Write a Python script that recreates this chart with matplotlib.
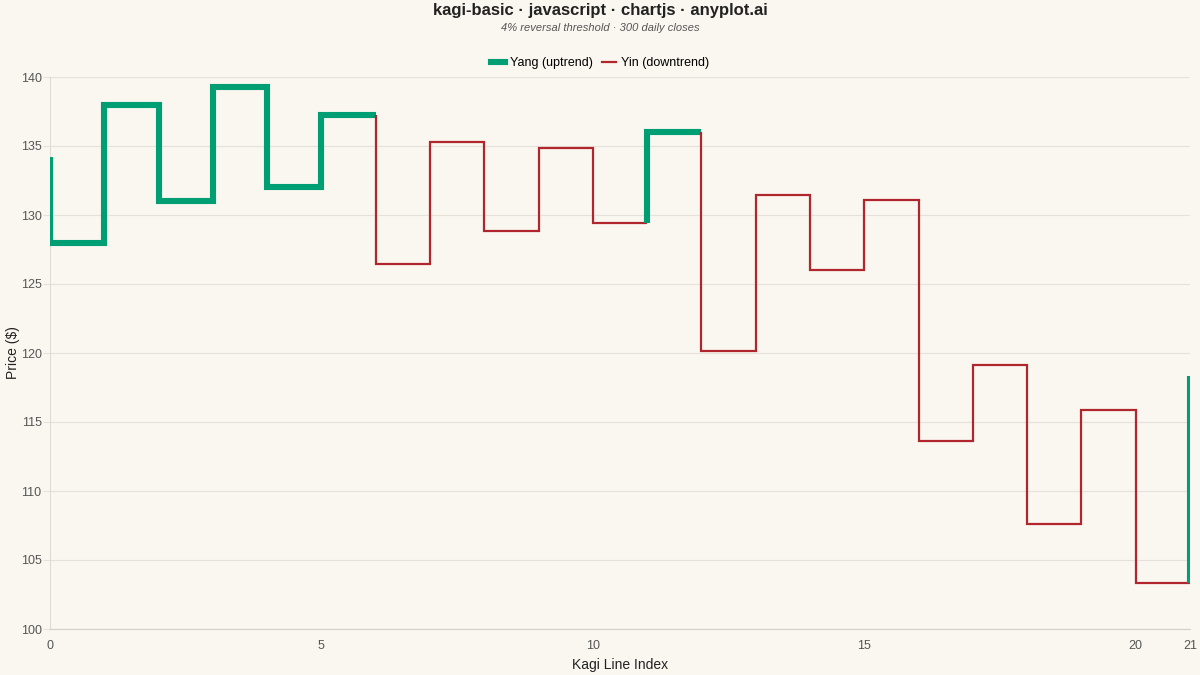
import matplotlib.pyplot as plt
from matplotlib.lines import Line2D

plt.rcParams['font.family'] = ['Liberation Sans', 'DejaVu Sans']

# Kagi line data
start_price = 134.2
line_index = list(range(22))
levels = [128.0, 138.0, 131.0, 139.3, 132.0, 137.25, 126.45, 135.3, 128.85,
          134.85, 129.4, 136.0, 120.15, 131.45, 126.0, 131.1, 113.6, 119.1,
          107.6, 115.9, 103.35, 118.3]
trend = ['yang'] * 6 + ['yin'] * 5 + ['yang'] + ['yin'] * 9 + ['yang']

y_ticks = [100, 105, 110, 115, 120, 125, 130, 135, 140]
x_ticks = [0, 5, 10, 15, 20, 21]

bg = '#FAF7F0'
yang_color = '#009E73'
yin_color = '#B0262C'
styles = {'yang': dict(color=yang_color, lw=4.4), 'yin': dict(color=yin_color, lw=1.6)}

fig = plt.figure(figsize=(12, 6.75), dpi=100, facecolor=bg)
ax = fig.add_axes([50 / 1200, 1 - 629 / 675, 1140 / 1200, 552 / 675])
ax.set_facecolor(bg)

# group consecutive segments of the same trend into one polyline
runs = []
prev = start_price
for i, x in enumerate(line_index):
    pts = [(x, prev), (x, levels[i])]
    if i < len(line_index) - 1:
        pts.append((x + 1, levels[i]))
    if runs and runs[-1][0] == trend[i]:
        runs[-1][1].extend(pts[1:])
    else:
        runs.append([trend[i], pts])
    prev = levels[i]

for t, pts in runs:
    xs = [p[0] for p in pts]
    ys = [p[1] for p in pts]
    ax.plot(xs, ys, solid_joinstyle='miter', solid_capstyle='butt', zorder=3, **styles[t])

ax.set_xlim(0, 21)
ax.set_ylim(100, 140)
ax.set_yticks(y_ticks)
ax.set_xticks(x_ticks)
ax.grid(axis='y', color='#E6E2DA', lw=0.8)
ax.tick_params(axis='y', length=5, color='#E6E2DA', labelsize=9, labelcolor='#555555', pad=1)
ax.tick_params(axis='x', length=0, labelsize=9, labelcolor='#555555', pad=8)
for s in ['top', 'right']:
    ax.spines[s].set_visible(False)
ax.spines['left'].set_color('#E0DCD4')
ax.spines['bottom'].set_color('#D4D0C8')

ax.set_xlabel('Kagi Line Index', fontsize=10, color='#222222', labelpad=4)
ax.set_ylabel('Price ($)', fontsize=10, color='#222222')
ax.yaxis.set_label_coords(-30 / 1140, 0.5)

fig.text(0.5, 1 - 10 / 675, 'kagi-basic · javascript · chartjs · anyplot.ai',
         ha='center', va='center', fontsize=12, fontweight='bold', color='#222222')
fig.text(0.5, 1 - 28 / 675, '4% reversal threshold · 300 daily closes',
         ha='center', va='center', fontsize=8, style='italic', color='#555555')

handles = [Line2D([], [], color=yang_color, lw=4.4),
           Line2D([], [], color=yin_color, lw=1.6)]
fig.legend(handles, ['Yang (uptrend)', 'Yin (downtrend)'], loc='center',
           bbox_to_anchor=(0.5, 1 - 63 / 675), ncol=2, frameon=False, fontsize=9,
           handlelength=1.1, handletextpad=0.4, columnspacing=0.8)

fig.savefig('out.png', dpi=100, facecolor=bg)
